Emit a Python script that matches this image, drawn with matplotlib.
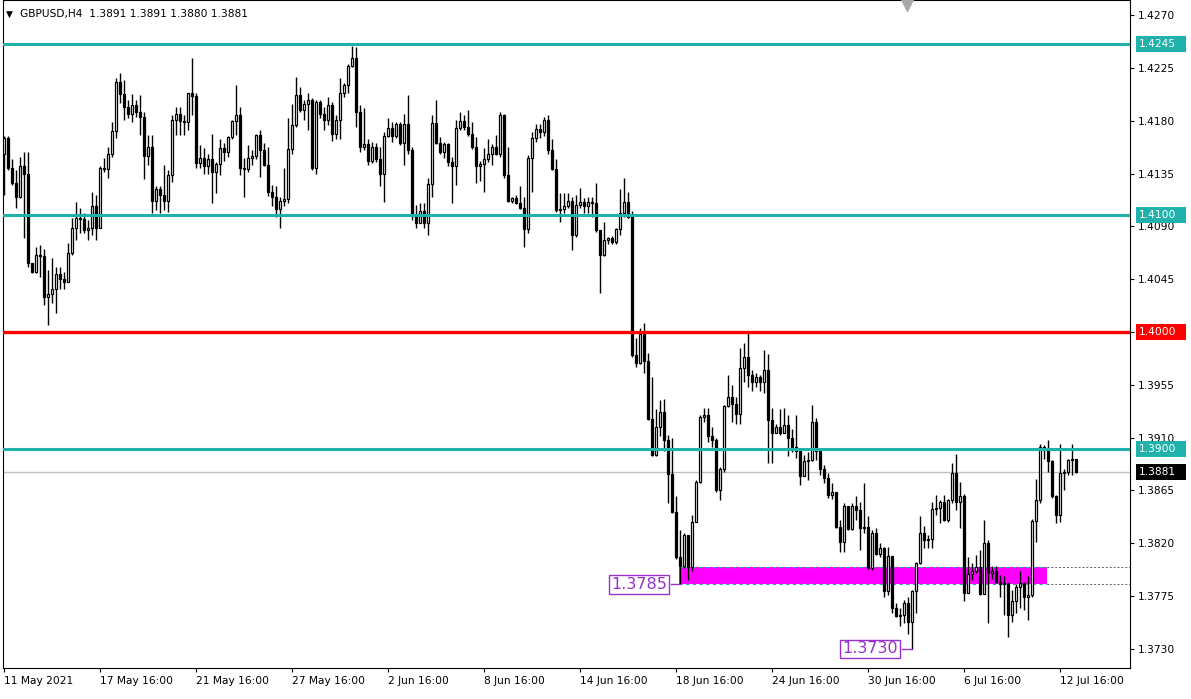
import matplotlib
matplotlib.use('Agg')
import matplotlib.pyplot as plt
import matplotlib.transforms as mtransforms
from matplotlib.patches import Rectangle
import numpy as np

# GBPUSD H4 candles (open = previous close)
symbol = 'GBPUSD,H4'
last_bar = (1.3891, 1.3891, 1.3880, 1.3881)
first_open = 1.4152

closes = [
    1.4165, 1.4140, 1.4127, 1.4115, 1.4141, 1.4135, 1.4059, 1.4051, 1.4066, 1.4065,
    1.4030, 1.4032, 1.4037, 1.4049, 1.4045, 1.4043, 1.4067, 1.4089, 1.4097, 1.4096,
    1.4087, 1.4089, 1.4107, 1.4089, 1.4140, 1.4139, 1.4152, 1.4171, 1.4213, 1.4203,
    1.4192, 1.4186, 1.4193, 1.4187, 1.4183, 1.4150, 1.4158, 1.4112, 1.4122, 1.4117,
    1.4112, 1.4134, 1.4181, 1.4186, 1.4180, 1.4179, 1.4204, 1.4201, 1.4144, 1.4148,
    1.4141, 1.4147, 1.4136, 1.4143, 1.4157, 1.4153, 1.4166, 1.4180, 1.4185, 1.4140,
    1.4139, 1.4148, 1.4150, 1.4168, 1.4155, 1.4142, 1.4119, 1.4115, 1.4105, 1.4112,
    1.4113, 1.4156, 1.4176, 1.4202, 1.4189, 1.4194, 1.4198, 1.4140, 1.4196, 1.4186,
    1.4181, 1.4193, 1.4169, 1.4181, 1.4204, 1.4210, 1.4227, 1.4233, 1.4187, 1.4158,
    1.4160, 1.4146, 1.4158, 1.4147, 1.4135, 1.4167, 1.4174, 1.4167, 1.4177, 1.4161,
    1.4177, 1.4155, 1.4099, 1.4093, 1.4103, 1.4093, 1.4126, 1.4178, 1.4161, 1.4153,
    1.4160, 1.4145, 1.4141, 1.4174, 1.4180, 1.4175, 1.4169, 1.4158, 1.4141, 1.4143,
    1.4147, 1.4152, 1.4158, 1.4152, 1.4185, 1.4134, 1.4112, 1.4114, 1.4110, 1.4106,
    1.4088, 1.4148, 1.4165, 1.4173, 1.4170, 1.4181, 1.4155, 1.4139, 1.4104, 1.4105,
    1.4107, 1.4112, 1.4083, 1.4108, 1.4111, 1.4107, 1.4111, 1.4110, 1.4087, 1.4066,
    1.4078, 1.4080, 1.4077, 1.4088, 1.4101, 1.4111, 1.4098, 1.3980, 1.3974, 1.3998,
    1.3975, 1.3926, 1.3895, 1.3919, 1.3932, 1.3908, 1.3879, 1.3847, 1.3808, 1.3801,
    1.3827, 1.3800, 1.3838, 1.3872, 1.3928, 1.3929, 1.3911, 1.3908, 1.3865, 1.3883,
    1.3937, 1.3945, 1.3939, 1.3930, 1.3969, 1.3979, 1.3963, 1.3957, 1.3962, 1.3957,
    1.3968, 1.3925, 1.3914, 1.3919, 1.3914, 1.3921, 1.3910, 1.3902, 1.3899, 1.3877,
    1.3890, 1.3891, 1.3923, 1.3899, 1.3883, 1.3876, 1.3861, 1.3864, 1.3834, 1.3821,
    1.3852, 1.3832, 1.3852, 1.3848, 1.3833, 1.3834, 1.3799, 1.3829, 1.3811, 1.3816,
    1.3779, 1.3809, 1.3765, 1.3758, 1.3759, 1.3769, 1.3753, 1.3779, 1.3803, 1.3829,
    1.3823, 1.3824, 1.3849, 1.3850, 1.3855, 1.3840, 1.3857, 1.3880, 1.3855, 1.3860,
    1.3778, 1.3794, 1.3796, 1.3800, 1.3777, 1.3820, 1.3795, 1.3796, 1.3787, 1.3785,
    1.3786, 1.3759, 1.3771, 1.3783, 1.3786, 1.3774, 1.3776, 1.3839, 1.3857, 1.3902,
    1.3901, 1.3890, 1.3860, 1.3844, 1.3880, 1.3881, 1.3891, 1.3892, 1.3881,
]

highs = [
    1.4167, 1.4167, 1.4147, 1.4138, 1.4149, 1.4153, 1.4153, 1.4059, 1.4072, 1.4074,
    1.4071, 1.4053, 1.4063, 1.4055, 1.4055, 1.4051, 1.4076, 1.4097, 1.4111, 1.4106,
    1.4101, 1.4095, 1.4119, 1.4117, 1.4141, 1.4148, 1.4158, 1.4179, 1.4216, 1.4221,
    1.4215, 1.4198, 1.4203, 1.4198, 1.4202, 1.4187, 1.4168, 1.4168, 1.4124, 1.4124,
    1.4142, 1.4138, 1.4185, 1.4192, 1.4192, 1.4185, 1.4204, 1.4233, 1.4204, 1.4159,
    1.4157, 1.4152, 1.4169, 1.4145, 1.4164, 1.4161, 1.4167, 1.4181, 1.4210, 1.4192,
    1.4148, 1.4159, 1.4155, 1.4169, 1.4172, 1.4161, 1.4158, 1.4125, 1.4124, 1.4115,
    1.4140, 1.4182, 1.4194, 1.4217, 1.4209, 1.4198, 1.4204, 1.4199, 1.4198, 1.4198,
    1.4192, 1.4200, 1.4196, 1.4185, 1.4216, 1.4212, 1.4228, 1.4244, 1.4243, 1.4193,
    1.4191, 1.4164, 1.4162, 1.4161, 1.4158, 1.4170, 1.4182, 1.4179, 1.4179, 1.4179,
    1.4186, 1.4202, 1.4158, 1.4108, 1.4110, 1.4110, 1.4131, 1.4185, 1.4198, 1.4166,
    1.4162, 1.4161, 1.4149, 1.4181, 1.4187, 1.4185, 1.4189, 1.4179, 1.4166, 1.4146,
    1.4157, 1.4164, 1.4160, 1.4168, 1.4187, 1.4186, 1.4158, 1.4115, 1.4117, 1.4124,
    1.4115, 1.4151, 1.4170, 1.4177, 1.4177, 1.4183, 1.4185, 1.4164, 1.4147, 1.4118,
    1.4118, 1.4118, 1.4115, 1.4117, 1.4123, 1.4114, 1.4115, 1.4115, 1.4127, 1.4087,
    1.4094, 1.4081, 1.4082, 1.4089, 1.4122, 1.4131, 1.4119, 1.4103, 1.3995, 1.4003,
    1.4008, 1.3982, 1.3962, 1.3934, 1.3942, 1.3943, 1.3912, 1.3910, 1.3860, 1.3831,
    1.3829, 1.3827, 1.3844, 1.3874, 1.3929, 1.3935, 1.3935, 1.3919, 1.3910, 1.3885,
    1.3938, 1.3963, 1.3955, 1.3945, 1.3986, 1.3991, 1.3999, 1.3968, 1.3965, 1.3963,
    1.3985, 1.3981, 1.3935, 1.3922, 1.3934, 1.3935, 1.3929, 1.3917, 1.3929, 1.3899,
    1.3895, 1.3898, 1.3938, 1.3927, 1.3900, 1.3887, 1.3880, 1.3871, 1.3864, 1.3840,
    1.3854, 1.3848, 1.3854, 1.3860, 1.3855, 1.3871, 1.3843, 1.3831, 1.3833, 1.3820,
    1.3817, 1.3817, 1.3808, 1.3769, 1.3765, 1.3772, 1.3774, 1.3780, 1.3804, 1.3843,
    1.3835, 1.3827, 1.3855, 1.3861, 1.3857, 1.3861, 1.3858, 1.3888, 1.3896, 1.3872,
    1.3862, 1.3808, 1.3803, 1.3810, 1.3814, 1.3840, 1.3823, 1.3801, 1.3801, 1.3793,
    1.3792, 1.3786, 1.3780, 1.3785, 1.3796, 1.3787, 1.3792, 1.3841, 1.3875, 1.3905,
    1.3904, 1.3908, 1.3891, 1.3861, 1.3905, 1.3883, 1.3892, 1.3905, 1.3891,
]

lows = [
    1.4117, 1.4138, 1.4125, 1.4106, 1.4114, 1.4080, 1.4055, 1.4050, 1.4050, 1.4047,
    1.4023, 1.4006, 1.4025, 1.4016, 1.4037, 1.4037, 1.4043, 1.4066, 1.4078, 1.4084,
    1.4084, 1.4078, 1.4083, 1.4078, 1.4089, 1.4136, 1.4131, 1.4149, 1.4165, 1.4195,
    1.4181, 1.4182, 1.4179, 1.4183, 1.4168, 1.4130, 1.4142, 1.4101, 1.4104, 1.4101,
    1.4104, 1.4102, 1.4128, 1.4168, 1.4168, 1.4168, 1.4172, 1.4185, 1.4140, 1.4140,
    1.4135, 1.4135, 1.4110, 1.4118, 1.4134, 1.4146, 1.4149, 1.4164, 1.4168, 1.4134,
    1.4115, 1.4136, 1.4142, 1.4147, 1.4132, 1.4141, 1.4116, 1.4107, 1.4098, 1.4089,
    1.4107, 1.4110, 1.4152, 1.4175, 1.4187, 1.4181, 1.4172, 1.4138, 1.4135, 1.4182,
    1.4172, 1.4176, 1.4163, 1.4164, 1.4164, 1.4200, 1.4204, 1.4226, 1.4175, 1.4153,
    1.4155, 1.4142, 1.4144, 1.4145, 1.4124, 1.4111, 1.4166, 1.4162, 1.4165, 1.4159,
    1.4142, 1.4152, 1.4095, 1.4089, 1.4093, 1.4089, 1.4083, 1.4115, 1.4160, 1.4152,
    1.4148, 1.4141, 1.4110, 1.4125, 1.4172, 1.4172, 1.4167, 1.4156, 1.4127, 1.4129,
    1.4119, 1.4145, 1.4142, 1.4151, 1.4149, 1.4131, 1.4111, 1.4110, 1.4109, 1.4105,
    1.4072, 1.4084, 1.4119, 1.4162, 1.4165, 1.4167, 1.4152, 1.4138, 1.4102, 1.4094,
    1.4101, 1.4106, 1.4070, 1.4081, 1.4106, 1.4101, 1.4101, 1.4098, 1.4085, 1.4033,
    1.4065, 1.4075, 1.4075, 1.4075, 1.4083, 1.4098, 1.4097, 1.3979, 1.3970, 1.3973,
    1.3965, 1.3925, 1.3894, 1.3894, 1.3911, 1.3899, 1.3854, 1.3846, 1.3807, 1.3785,
    1.3799, 1.3789, 1.3796, 1.3838, 1.3871, 1.3923, 1.3906, 1.3902, 1.3864, 1.3857,
    1.3881, 1.3936, 1.3923, 1.3922, 1.3922, 1.3957, 1.3953, 1.3950, 1.3953, 1.3950,
    1.3948, 1.3888, 1.3888, 1.3914, 1.3912, 1.3914, 1.3894, 1.3898, 1.3893, 1.3870,
    1.3880, 1.3874, 1.3890, 1.3891, 1.3878, 1.3871, 1.3859, 1.3858, 1.3833, 1.3813,
    1.3813, 1.3831, 1.3831, 1.3840, 1.3814, 1.3829, 1.3798, 1.3797, 1.3810, 1.3808,
    1.3774, 1.3776, 1.3761, 1.3757, 1.3750, 1.3752, 1.3743, 1.3730, 1.3761, 1.3802,
    1.3816, 1.3816, 1.3816, 1.3844, 1.3837, 1.3839, 1.3838, 1.3854, 1.3848, 1.3833,
    1.3771, 1.3778, 1.3789, 1.3795, 1.3776, 1.3778, 1.3752, 1.3790, 1.3786, 1.3774,
    1.3759, 1.3740, 1.3753, 1.3761, 1.3765, 1.3763, 1.3755, 1.3774, 1.3821, 1.3854,
    1.3892, 1.3881, 1.3859, 1.3837, 1.3838, 1.3865, 1.3878, 1.3878, 1.3880,
]

date_bars = [0, 24, 48, 72, 96, 120, 144, 168, 192, 216, 240, 264]
date_labels = ['11 May 2021', '17 May 16:00', '21 May 16:00', '27 May 16:00',
               '2 Jun 16:00', '8 Jun 16:00', '14 Jun 16:00', '18 Jun 16:00',
               '24 Jun 16:00', '30 Jun 16:00', '6 Jul 16:00', '12 Jul 16:00']
price_ticks = [1.4270, 1.4225, 1.4180, 1.4135, 1.4090, 1.4045, 1.4000,
               1.3955, 1.3910, 1.3865, 1.3820, 1.3775, 1.3730]

teal_levels = [1.4245, 1.4100, 1.3900]
red_level = 1.4000
bid = 1.3881
zone_low, zone_high = 1.3785, 1.3800
zone_bars = (168.75, 260.75)
marked_lows = [(169, 1.3785), (227, 1.3730)]

TEAL = '#20B2AA'
PURPLE = '#9932CC'
FS = 7.7

fig = plt.figure(figsize=(11.91, 6.99), dpi=100)
ax = fig.add_axes([3 / 1191, 31 / 699, 1127 / 1191, 668 / 699])
ax.set_xlim(-0.25, 281.5)
ax.set_ylim(1.37138, 1.42828)

# candles
c = np.array(closes)
o = np.array([first_open] + closes[:-1])
x = np.arange(len(c))
up = c >= o
ax.vlines(x, lows, highs, color='black', lw=1, zorder=2)
ax.bar(x, np.maximum(np.abs(c - o), 0.00003), bottom=np.minimum(o, c), width=0.62,
       color=np.where(up, 'white', 'black'), edgecolor='black', linewidth=0.9, zorder=3)

# zone and levels
ax.fill_between(zone_bars, zone_low, zone_high, color='magenta', lw=0, zorder=1.5)
for lv in (zone_low, zone_high):
    ax.plot(zone_bars, [lv, lv], color=TEAL, lw=0.8, ls=(0, (3, 3)), zorder=1.6)
    ax.plot([zone_bars[1], 281.5], [lv, lv], color='#606060', lw=0.7, ls=(0, (2, 2)), zorder=1.6)

ax.axhline(bid, color='#C0C0C0', lw=1, zorder=1)
for lv in teal_levels:
    ax.axhline(lv, color=TEAL, lw=2.2, zorder=4)
ax.axhline(red_level, color='red', lw=2.4, zorder=4)

# swing low labels
for (b, p), cx in zip(marked_lows, (158.75, 216.5)):
    ax.plot([cx + 8, b], [p, p], color=PURPLE, lw=1, zorder=5)
    ax.text(cx, p, f'{p:.4f}', fontsize=11.5, color=PURPLE, ha='center', va='center', zorder=6,
            bbox=dict(boxstyle='square,pad=0.12', fc='white', ec=PURPLE, lw=1))

# axes styling
ax.yaxis.tick_right()
ax.set_yticks(price_ticks)
ax.set_yticklabels([f'{p:.4f}' for p in price_ticks])
ax.set_xticks(date_bars)
ax.set_xticklabels(date_labels)
for lbl in ax.get_xticklabels():
    lbl.set_ha('left')
ax.tick_params(axis='y', length=3, width=0.8, pad=3, labelsize=FS)
ax.tick_params(axis='x', length=3, width=0.8, pad=3, labelsize=FS)
for s in ax.spines.values():
    s.set_linewidth(0.8)

# price tags on the right axis
trans = mtransforms.blended_transform_factory(ax.transAxes, ax.transData)
tag_h = 0.00136
tags = [(lv, TEAL, 'white') for lv in teal_levels] + [(red_level, 'red', 'white'), (bid, 'black', 'white')]
for lv, bg, fg in tags:
    ax.add_patch(Rectangle((1.0053, lv - tag_h / 2), 0.0444, tag_h, transform=trans,
                           fc=bg, ec='none', clip_on=False, zorder=10))
    ax.text(1.0075, lv, f'{lv:.4f}', transform=trans, color=fg, fontsize=FS,
            ha='left', va='center', zorder=11, clip_on=False)

# chart shift marker
ax.plot([225.75], [0.993], marker='v', color='#A9A9A9', ms=8,
        transform=mtransforms.blended_transform_factory(ax.transData, ax.transAxes),
        clip_on=False, zorder=12)

# header
fig.text(6 / 1191, 1 - 14 / 699, '\u25BC', fontsize=6.5, va='center', ha='left')
fig.text(20 / 1191, 1 - 14 / 699,
         f'{symbol}  ' + ' '.join(f'{v:.4f}' for v in last_bar),
         fontsize=FS, va='center', ha='left')

fig.savefig('out.png', dpi=100, facecolor='white')
